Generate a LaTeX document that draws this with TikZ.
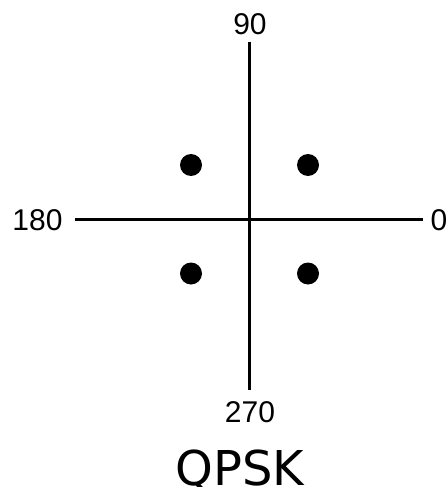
\documentclass[tikz,border=0pt]{standalone}
\usepackage{fontspec}
\setmainfont{Liberation Sans}
\newfontfamily\titlefont{DejaVu Sans}
\begin{document}
\begin{tikzpicture}[x=1pt,y=-1pt,
  axis/.style={line width=3pt,black},
  dot/.style={circle,fill=black,inner sep=0pt,minimum size=22pt},
  lbl/.style={inner sep=0pt,anchor=base,font=\fontsize{30}{30}\selectfont},
  ttl/.style={inner sep=0pt,anchor=base,font=\titlefont\fontsize{48}{48}\selectfont}]
\useasboundingbox (0,0) rectangle (447,487);
\coordinate (top) at (249.7,42);
\coordinate (bot) at (249.7,390);
\coordinate (lft) at (75,219);
\coordinate (rgt) at (423,219);
\draw[axis] (top) -- (bot);
\draw[axis] (lft) -- (rgt);
\node[dot] (d1) at (191,165) {};
\node[dot] (d2) at (308,165) {};
\node[dot] (d3) at (191,273.5) {};
\node[dot] (d4) at (308,273.5) {};
\node[lbl] (l90) at (250,35) {90};
\node[lbl] (l180) at (37.5,230) {180};
\node[lbl] (l0) at (439,230) {0};
\node[lbl] (l270) at (250,422.5) {270};
\node[ttl] (title) at (240,485) {QPSK};
\end{tikzpicture}
\end{document}
